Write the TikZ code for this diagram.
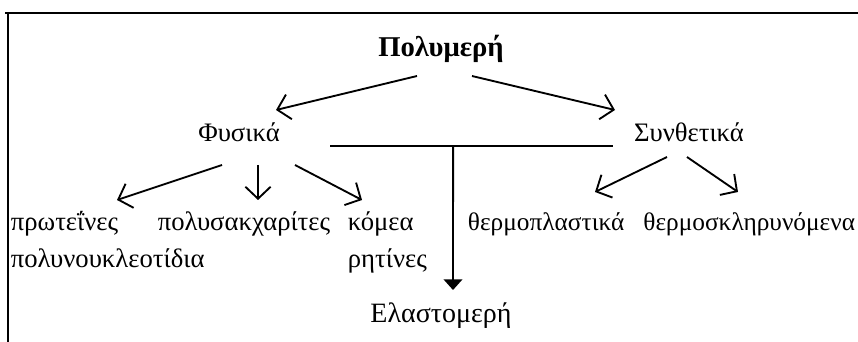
\documentclass[tikz,border=0pt]{standalone}
\usepackage{fontspec}
\setmainfont{Liberation Serif}
\usetikzlibrary{arrows.meta,calc}

\begin{document}
\begin{tikzpicture}[x=0.75pt,y=-0.75pt,line width=1.4pt,
    every node/.style={font=\fontsize{20}{24}\selectfont,inner sep=0pt,anchor=base},
    narrow/.style={font=\fontsize{19}{23}\selectfont},
    barb/.style={-{Straight Barb[length=9pt,width=19pt,line width=1.4pt]}},
    drop/.style={-{Triangle[length=8pt,width=14pt]}}]
    \useasboundingbox (0,0) rectangle (858,342);
    % frame
    \draw[line width=2.2pt] (5,13) -- (858,13);
    \draw (8,13) -- (8,342);
    % nodes
    \node[font=\fontsize{21.5}{25}\selectfont\bfseries] (pol) at (441,57) {Πολυμερή};
    \node (fys) at (239,142) {Φυσικά};
    \node (syn) at (689,142) {Συνθετικά};
    \node[anchor=base west] (prot) at (10,231) {πρωτεΐνες};
    \node (poly) at (244,231) {πολυσακχαρίτες};
    \node[anchor=base west] (kom) at (347,231) {κόμεα};
    \node[narrow,anchor=base west] (ther) at (467,231) {θερμοπλαστικά};
    \node[narrow,anchor=base east] (thes) at (856,231) {θερμοσκληρυνόμενα};
    \node[anchor=base west] (nucl) at (10,268) {πολυνουκλεοτίδια};
    \node[anchor=base west] (rit) at (347,268) {ρητίνες};
    \node[font=\fontsize{21}{25}\selectfont] (ela) at (441,323) {Ελαστομερή};
    % arrows
    \draw[barb] ($(pol.base)+(-24,19)$) -- ($(fys.base)+(37,-32)$);
    \draw[barb] ($(pol.base)+(31,19)$) -- ($(syn.base)+(-74,-32)$);
    \draw[barb] ($(fys.base)+(-17,23)$) -- ($(prot.base west)+(107,-31)$);
    \draw[barb] ($(fys.base)+(19,23)$) -- ($(poly.base)+(14,-31)$);
    \draw[barb] ($(fys.base)+(56,23)$) -- ($(kom.base west)+(15,-31)$);
    \draw[barb] ($(syn.base)+(-22,15)$) -- ($(ther.base west)+(128,-39)$);
    \draw[barb] ($(syn.base)+(-2,15)$) -- ($(thes.base east)+(-118,-39)$);
    % elastomers
    \coordinate (hl) at ($(fys.base)+(91,4)$);
    \coordinate (hr) at ($(syn.base)+(-76,4)$);
    \coordinate (jn) at ($(hl)!0.435!(hr)$);
    \draw (hl) -- (hr);
    \draw[drop] (jn) -- ($(ela.base)+(12,-33)$);
\end{tikzpicture}
\end{document}
